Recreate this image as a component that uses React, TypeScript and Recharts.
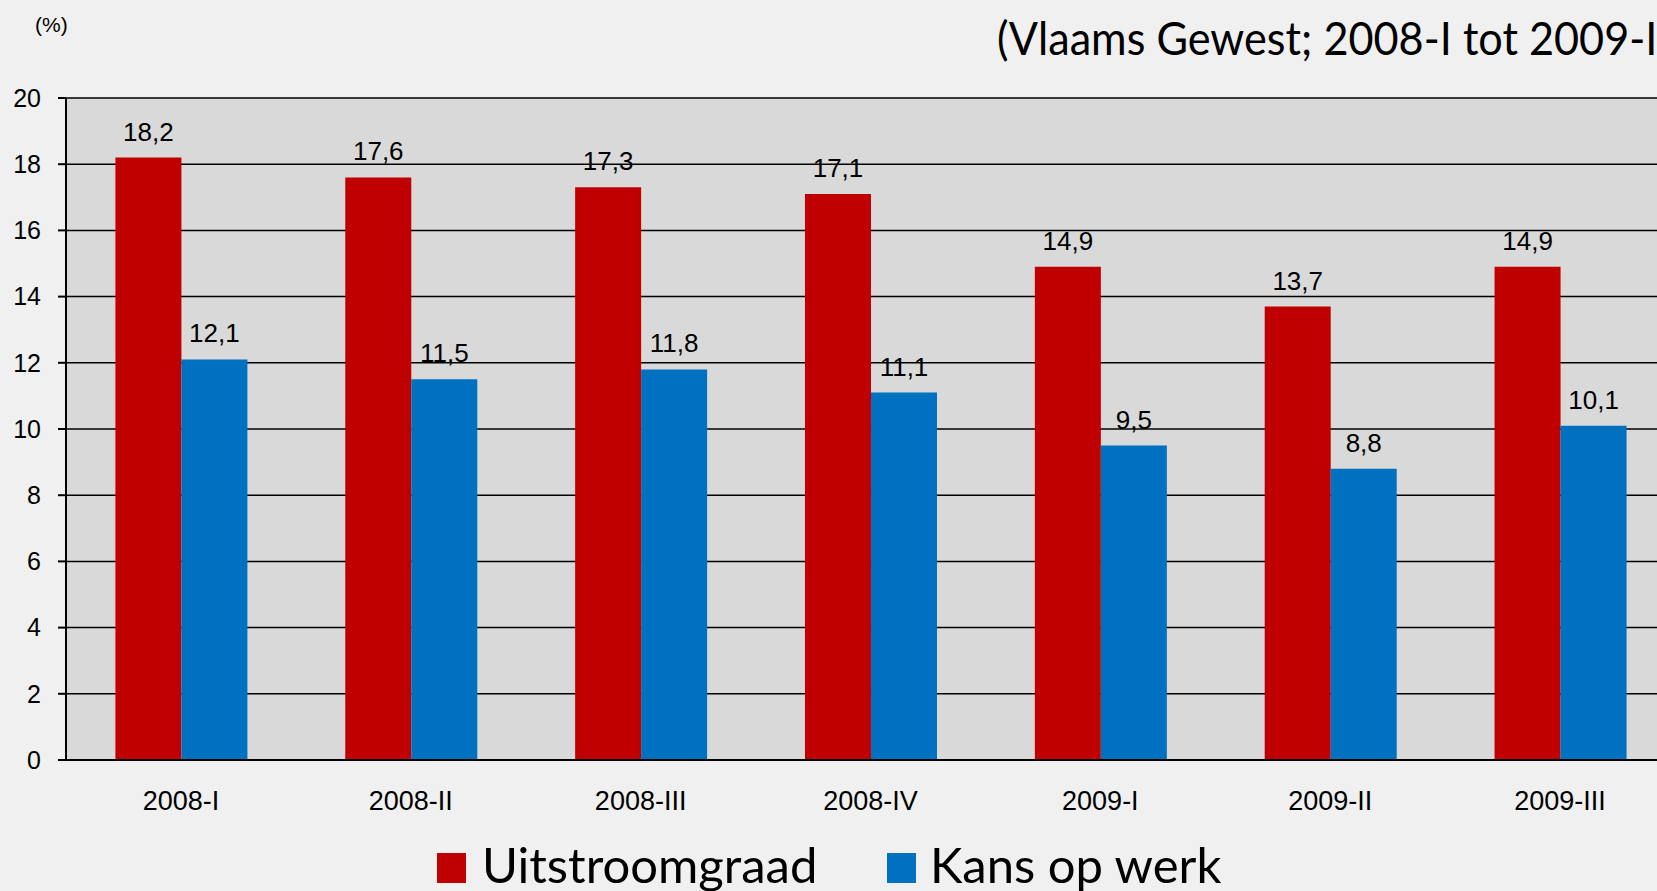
import React from 'react';
import { BarChart, Bar, XAxis, YAxis, CartesianGrid, LabelList } from 'recharts';

const quarters = ['2008-I', '2008-II', '2008-III', '2008-IV', '2009-I', '2009-II', '2009-III'];
const uitstroomgraad = [18.2, 17.6, 17.3, 17.1, 14.9, 13.7, 14.9];
const kansOpWerk = [12.1, 11.5, 11.8, 11.1, 9.5, 8.8, 10.1];
const yTicks = [0, 2, 4, 6, 8, 10, 12, 14, 16, 18, 20];
const edgeTicks = [0, 1, 2, 3, 4, 5, 6, 7];
const seriesNames = ['Uitstroomgraad', 'Kans op werk'];
const seriesColors = ['#c00000', '#0070c0'];

const data = quarters.map((q, i) => ({
  quarter: q,
  uit: uitstroomgraad[i],
  kans: kansOpWerk[i],
}));

const arial = 'Liberation Sans, Arial, sans-serif';
const calibri = 'Lato, sans-serif';

const fmt = (v: any) => String(v).replace('.', ',');

export default function App() {
  return (
    <div
      style={{
        position: 'fixed',
        left: 0,
        top: 0,
        width: 1657,
        height: 891,
        overflow: 'hidden',
        background: '#f0f0f0',
      }}
    >
      <BarChart
        width={1700}
        height={891}
        data={data}
        margin={{ top: 98, right: 25, left: 0, bottom: 0 }}
        barCategoryGap="21.5%"
        barGap={0}
      >
        <CartesianGrid
          vertical={false}
          stroke="#000"
          strokeWidth={1.5}
          fill="#d9d9d9"
          fillOpacity={1}
        />
        {/* tick marks sit on the category boundaries, not the centres */}
        <XAxis
          xAxisId="edge"
          type="number"
          domain={[0, 7]}
          ticks={edgeTicks}
          allowDataOverflow
          tick={false}
          tickSize={8}
          tickLine={{ stroke: '#000', strokeWidth: 2 }}
          axisLine={false}
          height={0}
        />
        <XAxis
          dataKey="quarter"
          interval={0}
          tickLine={false}
          tickSize={8}
          tickMargin={23}
          axisLine={{ stroke: '#000', strokeWidth: 2 }}
          tick={{ fontSize: 27, fill: '#000', fontFamily: arial }}
          height={131}
        />
        <YAxis
          domain={[0, 20]}
          ticks={yTicks}
          interval={0}
          width={66}
          tickSize={8}
          tickMargin={17}
          axisLine={{ stroke: '#000', strokeWidth: 2 }}
          tickLine={{ stroke: '#000', strokeWidth: 2 }}
          tick={{ fontSize: 25, fill: '#000', fontFamily: arial }}
        />
        <Bar dataKey="uit" name={seriesNames[0]} fill={seriesColors[0]} isAnimationActive={false}>
          <LabelList dataKey="uit" position="top" offset={17} formatter={fmt} fill="#000" fontSize={26} fontFamily={arial} />
        </Bar>
        <Bar dataKey="kans" name={seriesNames[1]} fill={seriesColors[1]} isAnimationActive={false}>
          <LabelList dataKey="kans" position="top" offset={17} formatter={fmt} fill="#000" fontSize={26} fontFamily={arial} />
        </Bar>
      </BarChart>
      <svg
        width={1657}
        height={891}
        style={{ position: 'absolute', left: 0, top: 0, pointerEvents: 'none' }}
      >
        <text x={35} y={32} fontSize={21} fontFamily={arial} fill="#000">(%)</text>
        <text
          transform="translate(997,55) scale(0.92,1)"
          x={0}
          y={0}
          fontSize={47}
          fontFamily={calibri}
          fill="#000"
        >
          (Vlaams Gewest; 2008-I tot 2009-III)
        </text>
        <rect x={437} y={853} width={29} height={30} fill={seriesColors[0]} />
        <text x={482} y={883} fontSize={49} fontFamily={calibri} fill="#000">{seriesNames[0]}</text>
        <rect x={887} y={853} width={29} height={30} fill={seriesColors[1]} />
        <text x={930} y={883} fontSize={49} fontFamily={calibri} fill="#000">{seriesNames[1]}</text>
      </svg>
    </div>
  );
}
